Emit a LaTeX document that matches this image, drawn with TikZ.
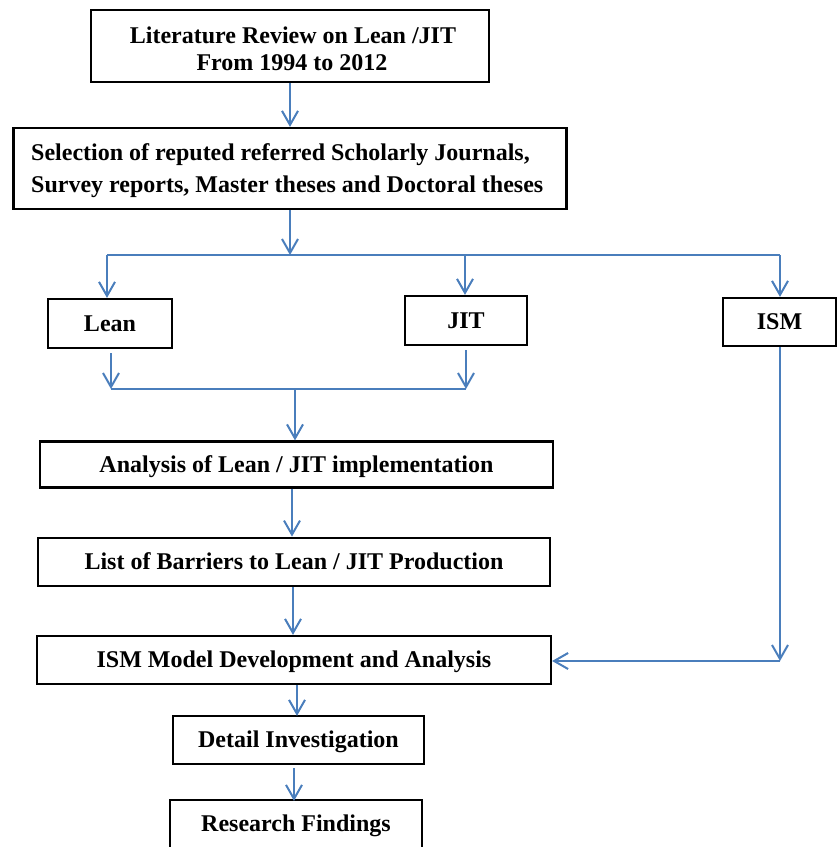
\documentclass[tikz,border=0pt]{standalone}
\usepackage{fontspec}
\setmainfont{Liberation Serif}
\usetikzlibrary{arrows.meta}
\definecolor{arrblue}{RGB}{74,126,188}
\begin{document}
\begin{tikzpicture}[x=1pt,y=-1pt,
  box/.style={draw=black, line width=2.2pt, inner sep=0pt, align=center,
    text height=15.9pt, text depth=0pt,
    font=\fontsize{24}{27}\selectfont\bfseries},
  emptybox/.style={draw=black, line width=2.2pt, inner sep=0pt},
  txt/.style={inner sep=0pt, font=\fontsize{24}{27}\selectfont\bfseries},
  arr/.style={draw=arrblue, line width=2pt, -{Straight Barb[length=14pt,width=16pt]}},
  ln/.style={draw=arrblue, line width=2pt}]
\useasboundingbox (0,0) rectangle (838,847);

% boxes
\node[emptybox, minimum width=398pt, minimum height=72pt] (lit) at (290,46) {};
\node[txt, anchor=base] (litA) at (293,43) {Literature Review on Lean /JIT};
\node[txt, anchor=base] (litB) at (292,70) {From 1994 to 2012};
\node[emptybox, minimum width=553pt, minimum height=81pt] (sel) at (290,168.5) {};
\node[txt, anchor=base west] (selA) at (31,160) {Selection of reputed referred Scholarly Journals,};
\node[txt, anchor=base west] (selB) at (31,192.5) {Survey reports, Master theses and Doctoral theses};
\node[box, minimum width=124pt, minimum height=49pt] (lean) at (110,323.5) {Lean};
\node[box, minimum width=122pt, minimum height=49pt] (jit) at (466,320.5) {JIT};
\node[box, minimum width=113pt, minimum height=48pt] (ism) at (779.5,322) {ISM};
\node[box, minimum width=513pt, minimum height=46pt] (ana) at (296.5,464.5) {Analysis of Lean / JIT implementation};
\node[box, minimum width=512pt, minimum height=48pt] (lst) at (294,561.7) {List of Barriers to Lean / JIT Production};
\node[box, minimum width=514pt, minimum height=48pt] (mod) at (294,660) {ISM Model Development and Analysis};
\node[box, minimum width=251pt, minimum height=48pt] (det) at (298.5,740) {Detail Investigation};
\node[box, minimum width=252pt, minimum height=48pt] (res) at (296,824) {Research Findings};

% junction coordinates
\coordinate (split) at (290,255);
\coordinate (sL) at (107,255);
\coordinate (sJ) at (465,255);
\coordinate (sI) at (780,255);
\coordinate (mL) at (111,389);
\coordinate (mJ) at (466,389);
\coordinate (mC) at (295,389);
\coordinate (corner) at (780,661);

% connectors
\draw[arr] (lit.south) -- (lit.south |- sel.north);
\draw[arr] (sel.south) -- (sel.south |- split);
\draw[ln] (sL) -- (sI);
\draw[arr] (sL) -- (sL |- lean.north);
\draw[arr] (sJ) -- (sJ |- jit.north);
\draw[arr] (sI) -- (sI |- ism.north);
\draw[arr, shorten <=4pt] (lean.south -| mL) -- (mL);
\draw[arr, shorten <=4pt] (jit.south -| mJ) -- (mJ);
\draw[ln] (mL) -- (mJ);
\draw[arr] (mC) -- (mC |- ana.north);
\draw[arr] (ana.south -| 292,0) -- (lst.north -| 292,0);
\draw[arr] (lst.south -| 293,0) -- (mod.north -| 293,0);
\draw[arr] (ism.south -| corner) -- (corner);
\draw[arr] (corner) -- (corner -| mod.east);
\draw[arr] (mod.south -| 297,0) -- ([yshift=-1pt]det.north -| 297,0);
\draw[arr, shorten <=3pt] (det.south -| 294,0) -- ([yshift=-2pt]res.north -| 294,0);
\end{tikzpicture}
\end{document}
